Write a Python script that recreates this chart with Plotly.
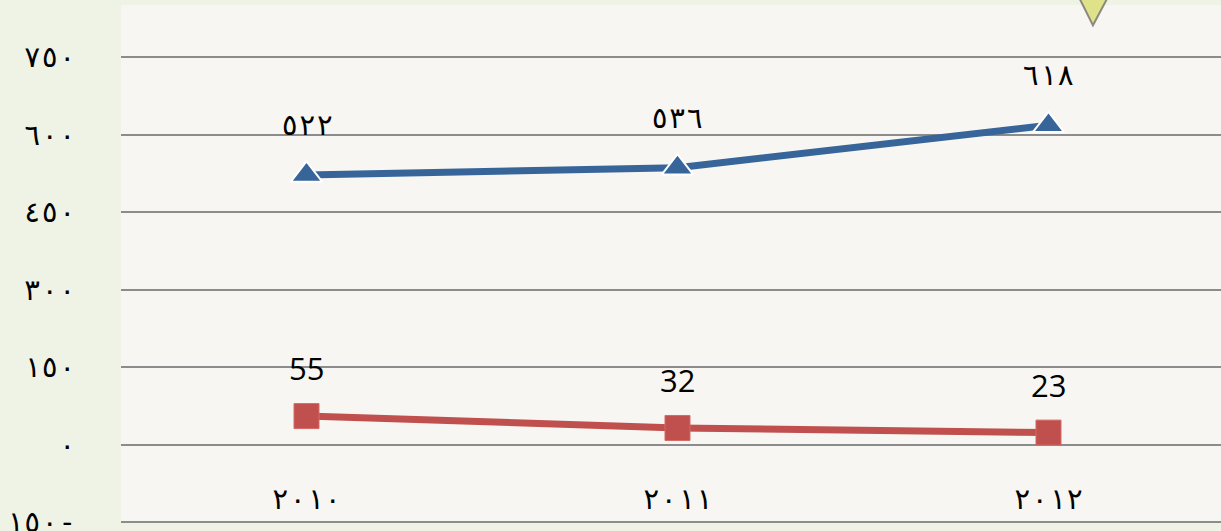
import plotly.graph_objects as go

# data
years = ["2010", "2011", "2012"]
series_a = [522, 536, 618]   # blue line, triangle markers
series_b = [55, 32, 23]      # red line, square markers
y_ticks = [-150, 0, 150, 300, 450, 600, 750]

ARABIC_DIGITS = str.maketrans("0123456789", "٠١٢٣٤٥٦٧٨٩")


def to_arabic(v):
    s = str(abs(v)).translate(ARABIC_DIGITS)
    return s + "-" if v < 0 else s


year_labels = [to_arabic(int(y)) for y in years]
y_tick_labels = [to_arabic(v) for v in y_ticks]

blue = "#37659a"
red = "#c0504d"
arabic_font = dict(family="DejaVu Sans Mono, DejaVu Sans", size=29, color="#000000")
latin_font = dict(family="Open Sans", size=31, color="#000000")

fig = go.Figure()

fig.add_trace(go.Scatter(
    x=years, y=series_a, mode="lines+markers",
    line=dict(color=blue, width=7),
    marker=dict(symbol="triangle-up", size=27, color=blue,
                line=dict(color="white", width=2)),
    hoverinfo="skip", showlegend=False,
))
fig.add_trace(go.Scatter(
    x=years, y=series_b, mode="lines+markers",
    line=dict(color=red, width=7),
    marker=dict(symbol="square", size=25, color=red,
                line=dict(color="#d46a66", width=1)),
    hoverinfo="skip", showlegend=False,
))

# value labels; category axis so x is the category index
annotations = []
for i, v in enumerate(series_a):
    annotations.append(dict(x=i, y=v, xref="x", yref="y", text=to_arabic(v),
                            showarrow=False, yshift=50, font=arabic_font))
for i, v in enumerate(series_b):
    annotations.append(dict(x=i, y=v, xref="x", yref="y", text=str(v),
                            showarrow=False, yshift=48, font=latin_font))

# small decorative marker at the top right (slide ornament)
shapes = [dict(
    type="path", xref="paper", yref="paper",
    path="M 0.8673 1.03 L 0.9009 1.03 L 0.8836 0.961 Z",
    fillcolor="#dfe288", line=dict(color="#8a8a80", width=2), layer="above",
)]

fig.update_layout(
    width=1221, height=531,
    margin=dict(l=121, r=0, t=5, b=8),
    paper_bgcolor="#eff3e6",
    plot_bgcolor="#f7f6f2",
    showlegend=False,
    annotations=annotations,
    shapes=shapes,
    xaxis=dict(
        type="category",
        range=[-0.5, 2.465],
        tickvals=years, ticktext=year_labels,
        tickfont=arabic_font,
        showgrid=False, showline=False, zeroline=False, ticks="",
        anchor="free", position=0.085, automargin=False,
    ),
    yaxis=dict(
        range=[-152, 851],
        tickvals=y_ticks, ticktext=y_tick_labels,
        tickfont=arabic_font,
        showgrid=True, gridcolor="#8c8c8c", gridwidth=2,
        zeroline=False, showline=False, ticks="",
        ticklabelstandoff=44, ticklabeloverflow="allow", automargin=False,
    ),
)

fig.write_html("out.html", config={"displayModeBar": False},
               post_script="document.body.style.margin='0';")
